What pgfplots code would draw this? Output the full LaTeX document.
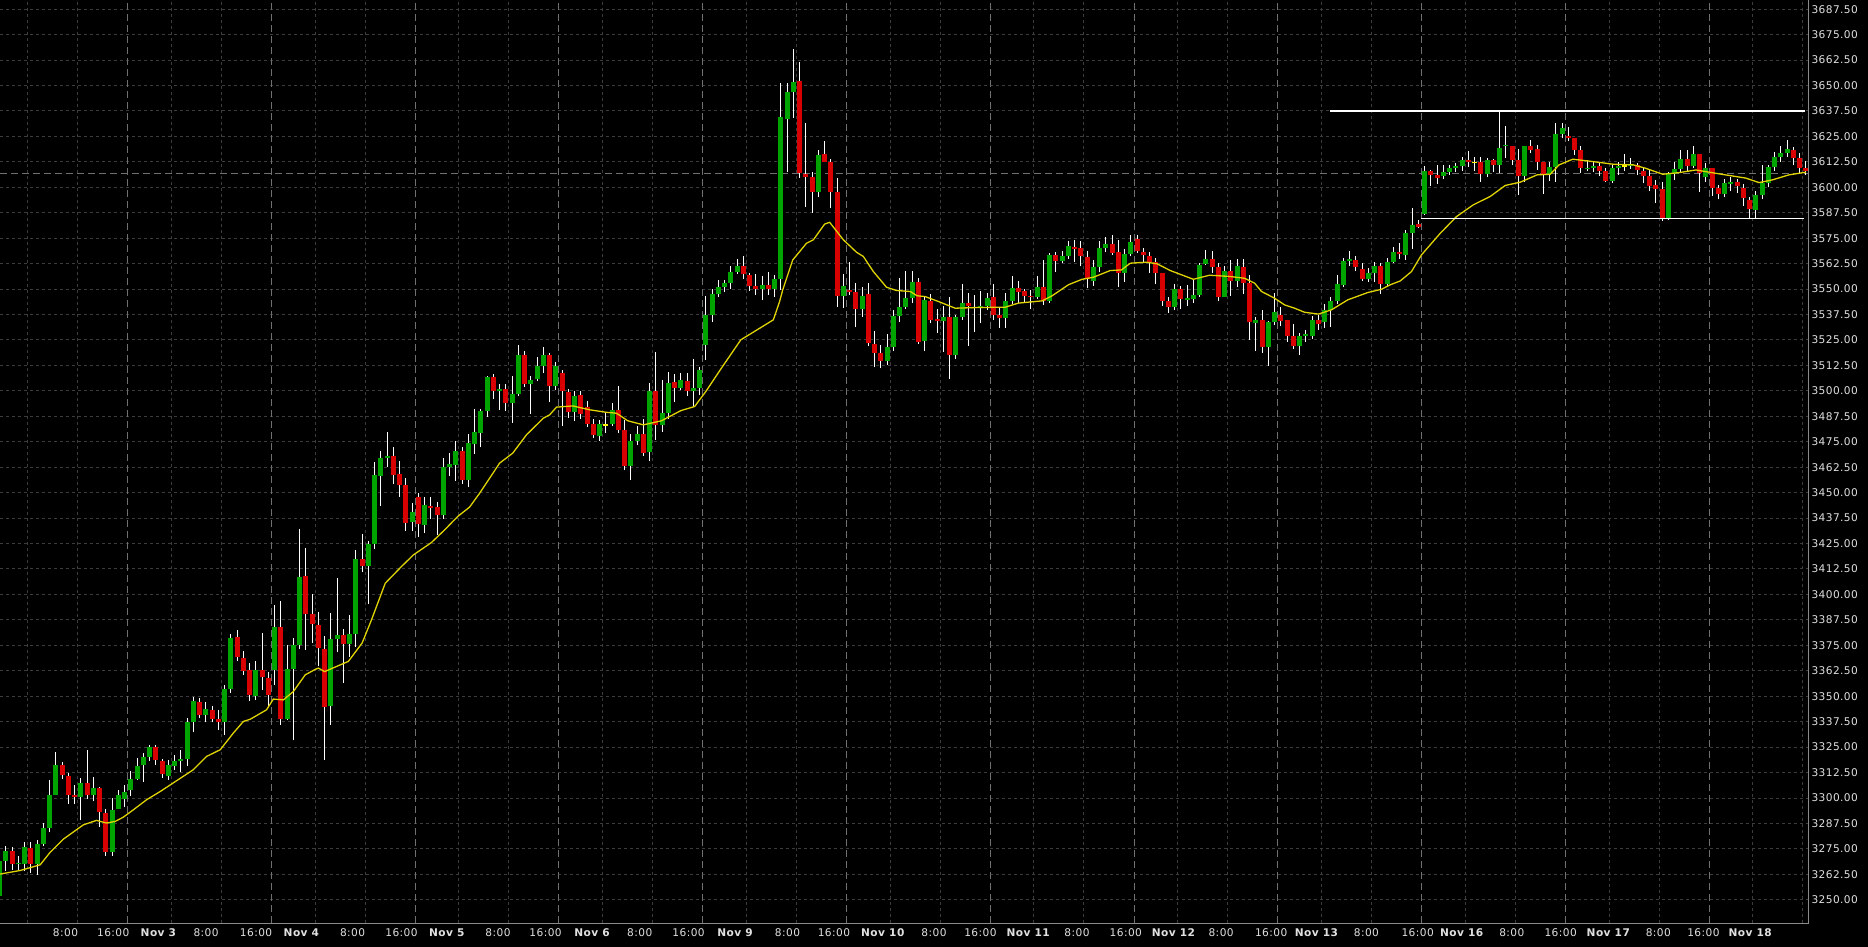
\documentclass[border=0pt]{standalone}
\usepackage{fontspec}
\setmainfont{DejaVu Sans}
\newfontfamily\lblfont{DejaVu Sans}[LetterSpace=4]
\usepackage{pgfplots}
\pgfplotsset{compat=1.18}
\usepackage{pgfplotstable}

\definecolor{bull}{HTML}{00A400}
\definecolor{bear}{HTML}{D80000}
\definecolor{gridc}{HTML}{3C3C3C}
\definecolor{sepc}{HTML}{707070}
\definecolor{mac}{HTML}{E0D400}
\definecolor{lblc}{HTML}{E0E0E0}
\definecolor{framec}{HTML}{8A8A8A}

\pgfplotstableread{
i o h l c
0 3252.0 3270.0 3250.0 3269.2
1 3269.2 3276.5 3264.2 3274.1
2 3274.1 3276.0 3264.7 3267.8
3 3267.4 3271.6 3264.7 3268.3
4 3267.8 3278.2 3264.2 3276.0
5 3275.5 3278.5 3263.4 3267.8
6 3267.8 3279.5 3262.4 3277.5
7 3277.5 3287.7 3276.2 3285.4
8 3285.4 3308.6 3283.1 3301.6
9 3301.3 3322.7 3301.3 3316.3
10 3316.3 3317.6 3309.4 3311.1
11 3310.9 3312.5 3297.2 3301.6
12 3301.6 3306.2 3297.2 3300.3
13 3300.3 3309.9 3289.0 3307.5
14 3307.5 3323.7 3299.6 3301.6
15 3301.6 3310.4 3298.3 3305.0
16 3305.0 3305.5 3285.9 3292.9
17 3292.7 3294.5 3271.6 3273.7
18 3273.7 3299.9 3271.6 3294.2
19 3294.5 3303.7 3294.5 3301.6
20 3299.5 3306.5 3295.8 3303.0
21 3304.0 3313.5 3300.8 3309.1
22 3309.1 3319.6 3309.0 3315.8
23 3316.3 3322.0 3308.1 3320.1
24 3320.1 3326.0 3318.0 3325.3
25 3325.0 3326.0 3316.3 3318.8
26 3318.3 3319.0 3310.0 3312.0
27 3311.0 3318.7 3309.0 3316.0
28 3315.8 3321.2 3313.9 3318.3
29 3318.0 3323.7 3313.0 3319.3
30 3319.3 3339.2 3315.5 3337.1
31 3337.1 3349.5 3332.2 3347.7
32 3347.2 3349.0 3339.2 3340.9
33 3340.9 3347.1 3337.3 3343.8
34 3343.3 3345.3 3337.3 3338.9
35 3338.9 3343.3 3333.5 3337.1
36 3337.1 3355.6 3331.0 3353.6
37 3353.6 3380.6 3351.8 3378.8
38 3379.2 3382.6 3367.5 3369.5
39 3369.0 3372.3 3360.5 3362.5
40 3363.0 3366.2 3347.7 3350.4
41 3349.9 3367.4 3348.2 3363.0
42 3363.0 3381.0 3353.1 3359.2
43 3359.0 3362.0 3345.0 3350.4
44 3363.0 3394.9 3355.6 3383.8
45 3383.8 3396.9 3336.0 3338.9
46 3338.9 3375.2 3338.1 3363.5
47 3363.5 3378.5 3328.3 3375.2
48 3375.2 3432.2 3373.1 3408.8
49 3409.1 3423.0 3372.8 3390.6
50 3390.6 3400.0 3376.1 3385.4
51 3385.1 3391.3 3364.6 3373.6
52 3373.3 3379.7 3318.8 3344.9
53 3345.4 3390.8 3335.9 3378.2
54 3378.2 3408.3 3371.5 3380.1
55 3380.1 3382.9 3356.7 3375.7
56 3375.7 3390.0 3369.5 3380.6
57 3380.6 3421.9 3374.1 3417.5
58 3417.5 3429.8 3410.8 3414.0
59 3414.0 3426.0 3395.4 3424.8
60 3424.8 3465.0 3422.4 3458.7
61 3458.4 3470.5 3443.2 3467.2
62 3467.1 3479.7 3462.8 3468.1
63 3468.1 3472.5 3454.3 3458.7
64 3459.2 3465.6 3448.1 3453.8
65 3453.8 3457.4 3431.4 3435.3
66 3435.6 3445.0 3431.0 3440.5
67 3447.8 3449.7 3428.1 3434.7
68 3434.2 3448.1 3430.1 3444.0
69 3443.5 3447.8 3437.1 3442.5
70 3442.9 3445.2 3429.3 3438.8
71 3438.8 3466.9 3437.0 3462.8
72 3462.8 3469.4 3458.3 3464.1
73 3463.6 3475.6 3455.8 3470.5
74 3470.5 3472.5 3454.3 3456.3
75 3456.3 3478.9 3453.0 3474.3
76 3474.0 3491.0 3469.0 3479.7
77 3479.5 3491.2 3472.2 3490.2
78 3490.2 3507.4 3487.4 3506.9
79 3506.9 3508.3 3496.1 3500.0
80 3500.0 3503.4 3490.7 3501.0
81 3501.0 3503.4 3490.3 3494.1
82 3494.1 3507.4 3484.4 3498.5
83 3498.5 3522.6 3497.5 3517.4
84 3517.4 3519.8 3502.1 3503.4
85 3503.4 3507.4 3488.7 3505.4
86 3505.8 3516.5 3504.6 3512.0
87 3512.0 3521.4 3508.7 3517.7
88 3517.7 3518.8 3494.3 3502.6
89 3502.6 3514.4 3500.5 3512.0
90 3509.0 3510.0 3482.5 3500.0
91 3499.2 3501.0 3486.6 3489.4
92 3489.4 3499.7 3485.0 3497.5
93 3498.0 3499.7 3486.3 3488.5
94 3492.0 3495.1 3482.2 3483.8
95 3483.8 3486.3 3476.8 3478.1
96 3477.6 3485.8 3475.6 3483.8
97 3483.3 3489.4 3479.2 3483.3
98 3483.8 3493.9 3482.5 3490.7
99 3490.7 3502.5 3479.2 3480.9
100 3480.9 3485.8 3460.9 3463.2
101 3463.2 3478.7 3456.3 3475.4
102 3475.4 3482.8 3473.2 3478.9
103 3478.9 3486.3 3467.8 3469.7
104 3470.2 3504.1 3465.3 3500.0
105 3500.0 3519.0 3476.0 3483.0
106 3483.0 3505.4 3479.7 3489.2
107 3489.2 3509.2 3486.3 3503.8
108 3504.3 3508.4 3494.4 3501.3
109 3501.3 3508.7 3500.5 3505.4
110 3504.9 3508.7 3497.7 3500.0
111 3500.0 3515.7 3492.3 3501.5
112 3501.5 3511.5 3498.0 3510.0
113 3522.6 3546.7 3515.2 3537.3
114 3537.3 3550.1 3533.6 3547.6
115 3547.6 3554.5 3546.3 3550.9
116 3551.2 3554.5 3548.5 3553.2
117 3553.2 3561.1 3550.1 3558.6
118 3558.4 3564.7 3557.3 3561.4
119 3561.4 3566.0 3554.8 3557.6
120 3557.0 3557.8 3549.1 3551.7
121 3551.7 3557.5 3547.2 3550.1
122 3550.1 3556.2 3544.7 3552.1
123 3552.1 3558.3 3547.2 3550.1
124 3550.1 3556.7 3546.0 3555.0
125 3555.0 3651.1 3549.3 3634.3
126 3633.6 3651.4 3607.7 3647.0
127 3647.0 3668.0 3633.9 3651.9
128 3652.3 3661.3 3604.8 3606.9
129 3606.6 3631.5 3590.5 3605.0
130 3605.0 3607.6 3587.6 3597.9
131 3597.9 3618.4 3595.1 3615.9
132 3616.4 3622.8 3612.6 3612.6
133 3612.5 3614.0 3589.6 3597.9
134 3597.9 3604.6 3541.4 3546.8
135 3546.8 3557.5 3540.9 3551.5
136 3549.6 3563.4 3547.2 3548.5
137 3548.5 3553.2 3531.3 3540.1
138 3540.1 3550.9 3536.5 3546.8
139 3547.6 3552.9 3521.8 3523.4
140 3523.1 3529.5 3511.5 3518.5
141 3518.5 3522.6 3511.1 3514.9
142 3514.9 3528.0 3512.8 3521.4
143 3521.4 3539.8 3519.8 3536.8
144 3536.8 3555.3 3534.0 3541.1
145 3541.1 3558.9 3540.1 3545.8
146 3545.8 3558.9 3543.1 3553.4
147 3553.4 3555.3 3523.1 3524.2
148 3524.7 3546.7 3519.8 3544.7
149 3544.2 3547.7 3533.2 3534.9
150 3535.2 3540.1 3528.3 3534.1
151 3534.1 3541.7 3519.3 3536.3
152 3536.3 3546.3 3505.9 3517.7
153 3517.7 3537.3 3515.6 3536.3
154 3536.3 3552.6 3534.9 3543.1
155 3543.1 3548.3 3522.1 3541.8
156 3541.0 3547.2 3529.1 3540.5
157 3541.0 3549.1 3533.2 3541.8
158 3541.8 3548.3 3539.8 3545.8
159 3546.0 3552.6 3534.9 3537.3
160 3537.3 3541.4 3530.8 3536.0
161 3536.0 3548.0 3530.8 3544.2
162 3544.2 3556.5 3542.6 3550.4
163 3550.4 3554.0 3543.1 3548.8
164 3549.1 3549.9 3543.4 3546.8
165 3546.7 3549.6 3540.1 3545.9
166 3545.9 3556.5 3545.0 3550.9
167 3550.9 3564.3 3542.2 3544.2
168 3544.2 3567.6 3543.1 3566.8
169 3566.8 3568.4 3558.6 3563.9
170 3563.9 3568.8 3562.7 3566.3
171 3566.3 3573.8 3564.7 3571.2
172 3570.6 3574.2 3563.5 3569.8
173 3570.1 3573.8 3561.1 3566.0
174 3565.6 3568.9 3550.4 3554.8
175 3554.2 3564.3 3551.7 3560.7
176 3560.7 3573.8 3558.3 3570.1
177 3570.1 3575.5 3568.1 3572.2
178 3572.2 3576.6 3566.8 3567.6
179 3568.1 3574.2 3550.8 3558.1
180 3558.1 3569.6 3553.7 3567.3
181 3567.3 3576.6 3566.0 3573.0
182 3574.7 3576.6 3567.6 3568.9
183 3568.1 3570.1 3563.5 3566.5
184 3566.3 3568.0 3557.8 3563.2
185 3563.2 3565.2 3552.4 3557.8
186 3557.8 3557.8 3541.8 3544.2
187 3544.2 3546.3 3538.2 3541.4
188 3541.1 3552.6 3539.8 3550.1
189 3550.1 3551.6 3540.1 3545.2
190 3544.7 3552.1 3541.8 3545.8
191 3545.2 3554.8 3543.1 3547.2
192 3547.2 3563.0 3546.3 3561.9
193 3562.4 3569.3 3561.9 3564.8
194 3564.8 3568.9 3558.1 3560.6
195 3560.6 3562.7 3543.9 3546.3
196 3546.3 3561.4 3546.0 3559.0
197 3559.0 3564.3 3546.7 3554.0
198 3554.0 3564.7 3551.2 3561.1
199 3560.6 3564.7 3547.6 3553.2
200 3553.2 3557.0 3525.1 3533.6
201 3533.2 3536.2 3519.8 3534.9
202 3534.9 3539.8 3518.8 3521.3
203 3521.3 3534.1 3512.4 3533.6
204 3533.6 3548.0 3532.4 3538.8
205 3537.3 3541.1 3532.0 3534.4
206 3534.9 3534.9 3524.0 3527.0
207 3527.0 3532.9 3520.5 3522.1
208 3522.1 3528.6 3517.7 3526.7
209 3526.7 3530.0 3524.0 3527.7
210 3526.7 3536.8 3525.4 3534.9
211 3534.9 3537.3 3530.0 3532.9
212 3533.6 3542.7 3531.0 3539.8
213 3539.8 3546.0 3531.6 3544.2
214 3544.2 3557.0 3542.6 3552.6
215 3552.1 3565.2 3551.0 3563.9
216 3563.9 3568.8 3561.1 3564.8
217 3564.3 3566.0 3559.0 3560.6
218 3559.9 3562.7 3554.0 3555.0
219 3555.0 3560.2 3553.7 3558.1
220 3558.1 3563.5 3553.7 3561.1
221 3561.1 3562.7 3547.5 3552.6
222 3552.6 3565.2 3551.2 3563.5
223 3563.5 3570.9 3562.7 3568.4
224 3568.4 3572.5 3565.0 3567.1
225 3566.8 3579.1 3564.3 3577.4
226 3577.4 3590.0 3569.7 3581.5
227 3582.0 3584.0 3579.9 3580.7
228 3586.9 3610.5 3586.4 3608.1
229 3608.1 3608.5 3600.8 3606.1
230 3605.8 3611.0 3601.7 3604.8
231 3605.3 3611.0 3604.0 3607.6
232 3607.6 3611.0 3606.1 3609.5
233 3609.5 3611.8 3607.7 3610.5
234 3610.5 3615.1 3608.0 3613.5
235 3613.5 3617.9 3610.0 3612.6
236 3612.2 3615.1 3608.0 3612.2
237 3612.6 3615.1 3602.8 3606.4
238 3606.4 3614.6 3604.9 3613.5
239 3613.5 3614.0 3607.4 3611.0
240 3611.0 3637.2 3607.2 3619.5
241 3620.3 3630.2 3614.3 3620.8
242 3620.3 3620.3 3610.7 3613.5
243 3613.5 3618.9 3596.3 3605.3
244 3605.3 3620.3 3602.5 3620.3
245 3620.3 3623.3 3616.7 3618.4
246 3618.9 3620.8 3608.5 3612.3
247 3612.2 3612.2 3596.8 3606.6
248 3606.6 3612.6 3603.0 3610.2
249 3610.2 3631.5 3602.8 3626.2
250 3626.2 3631.5 3624.0 3629.3
251 3625.2 3629.8 3622.5 3624.1
252 3624.4 3624.4 3615.9 3618.4
253 3618.4 3620.3 3606.9 3609.4
254 3608.9 3613.5 3608.1 3609.7
255 3609.7 3612.6 3607.4 3610.5
256 3610.5 3611.8 3605.3 3608.1
257 3608.1 3609.4 3602.5 3603.1
258 3603.1 3611.3 3602.0 3609.4
259 3609.7 3612.6 3606.1 3610.5
260 3610.5 3616.4 3608.1 3610.5
261 3610.5 3614.6 3609.0 3611.3
262 3611.0 3611.8 3606.1 3608.5
263 3608.2 3610.2 3602.0 3605.6
264 3605.3 3609.0 3598.4 3600.7
265 3601.2 3603.6 3592.5 3599.2
266 3599.2 3602.5 3583.5 3584.8
267 3584.8 3607.7 3584.0 3606.4
268 3606.4 3612.6 3603.6 3609.0
269 3609.0 3618.4 3607.4 3614.0
270 3613.9 3618.4 3607.4 3610.5
271 3610.5 3620.5 3609.4 3616.4
272 3616.4 3616.4 3597.9 3606.9
273 3605.0 3611.8 3602.5 3609.7
274 3609.4 3609.4 3595.5 3599.5
275 3599.5 3601.0 3594.0 3596.6
276 3596.6 3604.0 3595.0 3602.3
277 3601.8 3605.0 3598.0 3602.5
278 3602.5 3604.0 3597.0 3600.4
279 3599.5 3601.5 3591.0 3594.6
280 3593.6 3595.0 3585.0 3589.2
281 3588.9 3598.0 3584.3 3596.3
282 3596.3 3611.0 3594.0 3602.3
283 3602.3 3611.0 3600.0 3609.8
284 3609.8 3617.5 3608.0 3614.8
285 3614.8 3620.3 3612.6 3616.9
286 3616.9 3623.3 3615.0 3618.9
287 3618.4 3619.7 3610.7 3614.6
288 3614.3 3617.0 3607.0 3609.7
289 3609.7 3613.0 3606.0 3608.0
}\candles

\pgfplotstableread{
i ma
0 3262.6
3.3 3264.4
6.5 3267.2
8 3273.0
10.2 3279.8
13.4 3286.8
15.5 3289.0
17.1 3287.7
18.5 3288.5
19.8 3290.6
21.4 3294.2
23.5 3299.1
25.7 3303.2
31 3313.9
33.1 3320.4
35.3 3323.7
37.4 3331.9
39 3337.6
40.1 3338.7
42.7 3343.3
43.8 3348.6
45.4 3348.2
47 3352.3
48.9 3360.5
50.4 3363.0
51 3363.8
52 3362.1
55.8 3367.1
58 3376.1
59.5 3387.5
61.7 3405.5
64.3 3413.7
66.2 3419.4
69.1 3425.5
71.2 3431.7
73.3 3438.3
75.2 3442.9
76.8 3449.7
80 3464.5
82.1 3469.4
84.3 3478.4
87 3486.6
88 3488.2
89.1 3492.0
91.7 3492.6
94.4 3490.7
97 3489.5
98.7 3489.0
100.5 3485.3
103 3483.3
105.9 3485.3
109 3490.3
111.2 3492.3
113 3499.7
115.5 3511.2
118.6 3525.1
121.9 3531.3
123.8 3534.9
124.8 3543.9
125.3 3549.6
126.9 3564.3
129.1 3572.5
130.2 3574.2
132 3581.9
132.8 3582.8
135 3574.2
137.1 3568.1
138.2 3566.0
139.8 3558.6
141.9 3550.9
143.5 3549.3
145.7 3548.8
146.8 3546.7
148.1 3546.3
150.2 3543.9
152.9 3540.6
156.1 3540.9
160.9 3541.1
163 3543.1
166.8 3544.2
168.4 3546.7
171 3552.1
173.2 3554.8
175 3555.8
177.7 3559.1
179.5 3559.4
180.9 3562.7
183.5 3563.2
185.2 3562.4
187.3 3559.1
191 3554.8
193.6 3556.8
196.8 3556.2
199.2 3555.3
200.8 3552.9
201.9 3548.8
204 3545.5
205.6 3542.2
207.2 3540.6
208.8 3538.6
211 3537.7
213.1 3539.8
215.7 3544.7
218.9 3548.3
221.1 3549.9
222.5 3552.1
224.1 3554.0
225.9 3558.6
227.5 3566.8
230.5 3577.4
233.1 3585.6
235.8 3591.4
238.5 3595.5
240.9 3600.9
243.3 3602.5
246 3606.1
248.1 3606.4
249.5 3611.0
251.7 3613.8
253.9 3613.0
256 3612.2
258.2 3611.3
261.4 3611.0
263.3 3609.4
266.1 3606.4
268.7 3607.2
271.4 3608.5
275.1 3606.6
279.4 3604.5
281.5 3602.3
283.6 3603.6
286.3 3606.1
289 3607.4
}\madata

\begin{document}
\begin{tikzpicture}
\fill[black] (0,-24bp) rectangle (1868bp,923bp);
\useasboundingbox (0,-24bp) rectangle (1868bp,923bp);
\begin{axis}[
  at={(0,0)}, anchor=south west,
  scale only axis, width=1808bp, height=923bp,
  xmin=0.064, xmax=289.34, ymin=3238.6, ymax=3692.0,
  axis background/.style={fill=black},
  axis line style={draw=framec, line width=1bp},
  ytick={3250,3262.5,...,3687.5},
  yticklabel pos=right,
  ymajorgrids=true,
  major grid style={draw=gridc, line width=1bp, dash pattern=on 3bp off 3bp},
  minor xtick={4.5,12.5,27.5,35.5,50.5,58.5,73.5,81.5,96.5,104.5,119.5,127.5,142.5,150.5,165.5,173.5,188.5,196.5,211.5,219.5,234.5,242.5,257.5,265.5,280.5,288.5},
  xminorgrids=true,
  minor grid style={draw=gridc, line width=1bp, dash pattern=on 3bp off 3bp},
  extra x ticks={20.5,43.5,66.5,89.5,112.5,135.5,158.5,181.5,204.5,227.5,250.5,273.5},
  extra x tick labels={},
  extra x tick style={grid=major, major grid style={draw=sepc, line width=1bp, dash pattern=on 7bp off 4bp}},
  major tick length=0pt, minor tick length=0pt,
  xtick={10.54,18.18,25.41,33.04,41.04,48.29,56.48,64.30,71.54,79.74,87.36,94.80,102.42,110.24,117.66,126.06,133.49,141.31,149.50,156.93,164.56,172.38,180.19,187.81,195.44,203.44,210.69,218.69,226.88,233.94,241.95,249.76,257.39,265.39,272.6,280.1},
  xticklabels={8:00,16:00,{\bfseries Nov 3},8:00,16:00,{\bfseries Nov 4},8:00,16:00,{\bfseries Nov 5},8:00,16:00,{\bfseries Nov 6},8:00,16:00,{\bfseries Nov 9},8:00,16:00,{\bfseries Nov 10},8:00,16:00,{\bfseries Nov 11},8:00,16:00,{\bfseries Nov 12},8:00,16:00,{\bfseries Nov 13},8:00,16:00,{\bfseries Nov 16},8:00,16:00,{\bfseries Nov 17},8:00,16:00,{\bfseries Nov 18}},
  ticklabel style={font=\lblfont\fontsize{10.6bp}{12bp}\selectfont, text=lblc},
  xticklabel style={anchor=north, yshift=-2bp},
  yticklabel style={anchor=west, xshift=0bp, /pgf/number format/.cd, fixed, fixed zerofill, precision=2, 1000 sep={}, assume math mode=true},
]
% current price line
\addplot[sepc, line width=1bp, dash pattern=on 7bp off 4bp, forget plot] coordinates {(0.064,3606.9) (289.34,3606.9)};
% wicks
\addplot[draw=none, mark=none, forget plot,
  error bars/.cd, y dir=plus, y explicit, error mark=none,
  error bar style={draw=white, line width=1bp}]
  table[x=i, y=l, y error plus expr={\thisrow{h}-\thisrow{l}}] {\candles};
% bull bodies
\addplot[draw=none, mark=none, forget plot,
  y filter/.expression={\thisrow{c}-\thisrow{o}>0.01 ? y : nan},
  error bars/.cd, y dir=plus, y explicit, error mark=none,
  error bar style={draw=bull, line width=5bp}]
  table[x=i, y=o, y error plus expr={max(\thisrow{c}-\thisrow{o},0.5)}] {\candles};
% bear bodies
\addplot[draw=none, mark=none, forget plot,
  y filter/.expression={\thisrow{o}-\thisrow{c}>0.01 ? y : nan},
  error bars/.cd, y dir=plus, y explicit, error mark=none,
  error bar style={draw=bear, line width=5bp}]
  table[x=i, y=c, y error plus expr={max(\thisrow{o}-\thisrow{c},0.5)}] {\candles};
% doji
\addplot[draw=none, mark=none, forget plot,
  y filter/.expression={abs(\thisrow{o}-\thisrow{c})<=0.01 ? y : nan},
  error bars/.cd, y dir=plus, y explicit, error mark=none,
  error bar style={draw=yellow, line width=5bp}]
  table[x=i, y expr={\thisrow{o}-0.4}, y error plus expr={0.8}] {\candles};
% moving average
\addplot[mac, line width=1.3bp, mark=none, forget plot] table[x=i, y=ma] {\madata};
% range lines
\addplot[white, line width=1.3bp, forget plot] coordinates {(212.8,3637.5) (288.9,3637.5)};
\addplot[white, line width=1.3bp, forget plot] coordinates {(227.4,3584.5) (288.7,3584.5)};
\end{axis}
\end{tikzpicture}
\end{document}
